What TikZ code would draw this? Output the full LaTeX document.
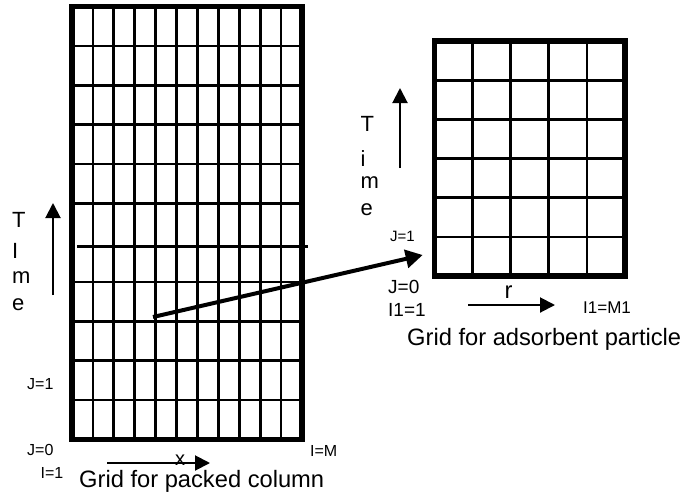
\documentclass[tikz,border=0pt]{standalone}
\usepackage{fontspec}
\setmainfont{Liberation Sans}
\usetikzlibrary{arrows.meta}
\begin{document}
\begin{tikzpicture}[x=1pt,y=-1pt,
  big/.style={font=\fontsize{23.7}{28}\selectfont, inner sep=0pt, anchor=base west},
  timeletter/.style={font=\fontsize{22}{24}\selectfont, inner sep=0pt, anchor=base west},
  mid/.style={font=\fontsize{19}{22}\selectfont, inner sep=0pt, anchor=base west},
  small/.style={font=\fontsize{16}{19}\selectfont, inner sep=0pt, anchor=base west},
  gridline/.style={line width=2.7pt},
  frame/.style={line width=5.5pt},
  arr/.style={line width=2pt,-{Triangle[length=15pt,width=15pt]}},
  bigarr/.style={line width=4pt,-{Triangle[length=17pt,width=18pt]}}]
\useasboundingbox (0,0) rectangle (696,493);
% left grid (packed column)
\foreach \i in {1,...,10} \draw[gridline] ({72+\i*20.909},6.5) -- ({72+\i*20.909},439.5);
\foreach \j in {1,2,3,4,5,7,8,9,10} \draw[gridline] (72,{6.5+\j*39.364}) -- (302,{6.5+\j*39.364});
\draw[gridline] (77,246.7) -- (308,246.7);
\draw[frame] (72,6.5) rectangle (302,439.5);
% right grid (adsorbent particle)
\foreach \i in {1,...,4} \draw[gridline] ({434.5+\i*38.1},41) -- ({434.5+\i*38.1},276);
\foreach \j in {1,...,5} \draw[gridline] (434.5,{41+\j*39.17}) -- (625,{41+\j*39.17});
\draw[frame] (434.5,41) rectangle (625,276);
% left labels
\node[timeletter] (lT) at (12,227.3) {T};
\node[timeletter] (lI) at (12,258) {I};
\node[timeletter] (lm) at (12,283) {m};
\node[timeletter] (le) at (12,310.7) {e};
\coordinate (lta) at (53,295);
\coordinate (ltb) at (53,203);
\draw[arr] (lta) -- (ltb);
\node[small] (lJ1) at (27,389) {J=1};
\node[small] (lJ0) at (27,455) {J=0};
\node[small] (lI1) at (40.5,478) {I=1};
\node[small] (lIM) at (310,456.7) {I=M};
\node[font=\fontsize{20}{24}\selectfont, inner sep=0pt, anchor=base] (lx) at (180,465) {x};
\coordinate (lxa) at (107,463);
\coordinate (lxb) at (210,463);
\draw[arr] (lxa) -- (lxb);
\node[big] (lcap) at (79,487.5) {Grid for packed column};
% right labels
\node[timeletter] (rT) at (360.5,131.7) {T};
\node[timeletter] (ri) at (360.5,166.7) {i};
\node[timeletter] (rm) at (360.5,188) {m};
\node[timeletter] (re) at (360.5,215) {e};
\coordinate (rta) at (400,168);
\coordinate (rtb) at (400,88);
\draw[arr] (rta) -- (rtb);
\node[font=\fontsize{15}{18}\selectfont, inner sep=0pt, anchor=base west] (rJ1) at (390,241.7) {J=1};
\node[mid] (rJ0) at (388,293) {J=0};
\node[mid] (rI1) at (388,316.7) {I1=1};
\node[big] (rr) at (504.5,298) {r};
\coordinate (rra) at (468,305);
\coordinate (rrb) at (555,305);
\draw[arr] (rra) -- (rrb);
\node[font=\fontsize{17}{20}\selectfont, inner sep=0pt, anchor=base west] (rIM) at (583,313) {I1=M1};
\node[big] (rcap) at (407,345) {Grid for adsorbent particle};
% connector from column cell to particle grid
\coordinate (cell) at (153,317);
\coordinate (part) at (422.7,255);
\draw[bigarr] (cell) -- (part);
\end{tikzpicture}
\end{document}
